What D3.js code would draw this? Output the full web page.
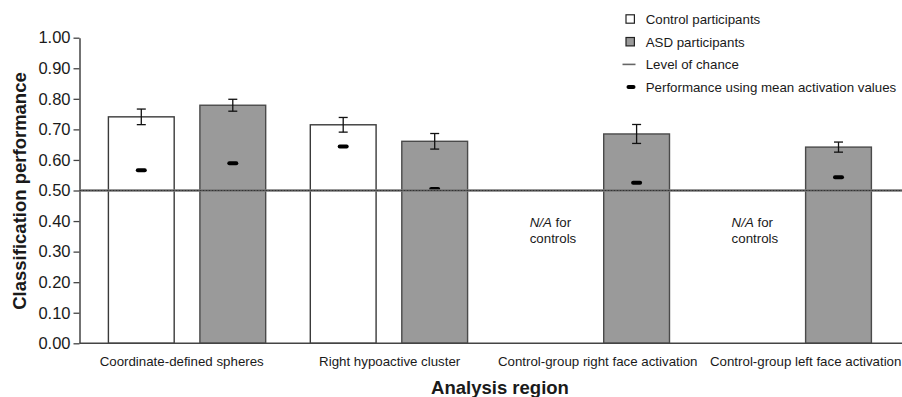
<!DOCTYPE html>
<html>
<head>
<meta charset="utf-8">
<script src="https://cdn.jsdelivr.net/npm/d3@7"></script>
<style>
  html, body { margin: 0; padding: 0; background: #fff; }
  svg { display: block; font-family: "Liberation Sans", Arial, Helvetica, sans-serif; }
</style>
</head>
<body>
<svg id="chart" width="902" height="397"></svg>
<script>
// ---- data ----
const categories = [
  "Coordinate-defined spheres",
  "Right hypoactive cluster",
  "Control-group right face activation",
  "Control-group left face activation"
];
const series = ["Control participants", "ASD participants"];
const controlValues = [0.741, 0.715, null, null];
const controlErrors = [0.0255, 0.024, null, null];
const asdValues = [0.779, 0.661, 0.685, 0.642];
const asdErrors = [0.0195, 0.0255, 0.031, 0.0165];
const controlMean = [0.566, 0.644, null, null];
const asdMean = [0.589, 0.505, 0.525, 0.543];
const chanceLevel = 0.5;
const yTicks = [0, 0.1, 0.2, 0.3, 0.4, 0.5, 0.6, 0.7, 0.8, 0.9, 1.0];
const naLabel = ["N/A", " for", "controls"];
const legendItems = ["Control participants", "ASD participants", "Level of chance", "Performance using mean activation values"];

// ---- layout ----
const svg = d3.select("#chart");
const W = 902, H = 397;
const axisX = 79.5;
const y = d3.scaleLinear().domain([0, 1]).range([343.3, 37.7]);

const x0 = d3.scaleBand().domain(categories).range([108.4, 871.4]).paddingInner(0.221).paddingOuter(0);
const x1 = d3.scaleBand().domain(series).range([0, x0.bandwidth()]).paddingInner(0.281);
const xLabel = d3.scaleBand().domain(categories).range([77.7, 909.7]);

const fills = { "Control participants": "#ffffff", "ASD participants": "#9a9a9a" };
const strokes = { "Control participants": "#3a3a3a", "ASD participants": "#4a4a4a" };

const rows = categories.map((c, i) => ({
  cat: c,
  vals: [
    { s: series[0], v: controlValues[i], e: controlErrors[i], m: controlMean[i] },
    { s: series[1], v: asdValues[i], e: asdErrors[i], m: asdMean[i] }
  ]
}));

// ---- y axis ----
const yAxis = d3.axisLeft(y).tickValues(yTicks).tickFormat(d3.format(".2f")).tickSize(6).tickSizeOuter(0).tickPadding(3);
const gy = svg.append("g").attr("transform", `translate(${axisX},0)`).call(yAxis);
gy.selectAll("text").attr("font-size", "16.5px").attr("fill", "#1a1a1a");
gy.selectAll("line").attr("stroke", "#444").attr("stroke-width", 1.3);
gy.select(".domain").attr("stroke", "#444").attr("stroke-width", 1.5);

// ---- bars ----
const groups = svg.append("g").selectAll("g").data(rows).join("g")
  .attr("transform", d => `translate(${x0(d.cat)},0)`);

const items = groups.selectAll("g.item").data(d => d.vals.filter(v => v.v != null)).join("g").attr("class", "item");

items.append("rect")
  .attr("x", d => x1(d.s))
  .attr("width", x1.bandwidth())
  .attr("y", d => y(d.v))
  .attr("height", d => y(0) - y(d.v))
  .attr("fill", d => fills[d.s])
  .attr("stroke", d => strokes[d.s])
  .attr("stroke-width", 1.4);

// error bars
const cx = d => x1(d.s) + x1.bandwidth() / 2;
items.append("line")
  .attr("x1", cx).attr("x2", cx)
  .attr("y1", d => y(d.v + d.e)).attr("y2", d => y(d.v - d.e))
  .attr("stroke", "#111").attr("stroke-width", 1.3);
items.append("line")
  .attr("x1", d => cx(d) - 4.5).attr("x2", d => cx(d) + 4.5)
  .attr("y1", d => y(d.v + d.e)).attr("y2", d => y(d.v + d.e))
  .attr("stroke", "#111").attr("stroke-width", 1.3);
items.append("line")
  .attr("x1", d => cx(d) - 4.5).attr("x2", d => cx(d) + 4.5)
  .attr("y1", d => y(d.v - d.e)).attr("y2", d => y(d.v - d.e))
  .attr("stroke", "#111").attr("stroke-width", 1.3);

// N/A text
const naGroups = groups.filter(d => d.vals[0].v == null);
const naText = naGroups.append("text")
  .attr("x", x1(series[0]) + 17.5)
  .attr("y", y(0.38))
  .attr("font-size", "13.3px")
  .attr("fill", "#1a1a1a");
naText.append("tspan").attr("font-style", "italic").text(naLabel[0]);
naText.append("tspan").text(naLabel[1]);
naGroups.append("text")
  .attr("x", x1(series[0]) + 17.5)
  .attr("y", y(0.38) + 15.8)
  .attr("font-size", "13.3px")
  .attr("fill", "#1a1a1a")
  .text(naLabel[2]);

// ---- x axis line ----
svg.append("line")
  .attr("x1", axisX).attr("x2", W)
  .attr("y1", y(0)).attr("y2", y(0))
  .attr("stroke", "#444").attr("stroke-width", 1.6);

// chance line
svg.append("line")
  .attr("x1", axisX).attr("x2", W)
  .attr("y1", y(chanceLevel)).attr("y2", y(chanceLevel))
  .attr("stroke", "#777").attr("stroke-width", 2.6);
svg.append("line")
  .attr("x1", axisX).attr("x2", W)
  .attr("y1", y(chanceLevel)).attr("y2", y(chanceLevel))
  .attr("stroke", "#333").attr("stroke-width", 1).attr("stroke-dasharray", "2,1");

// mean markers (drawn on top)
items.filter(d => d.m != null).append("rect")
  .attr("x", d => cx(d) - 5.5)
  .attr("width", 11)
  .attr("y", d => y(d.m) - 2)
  .attr("height", 4)
  .attr("rx", 2)
  .attr("fill", "#000");

// category labels
const xAxis = d3.axisBottom(xLabel).tickSize(0).tickPadding(0);
const gx = svg.append("g").attr("transform", `translate(0,${y(0)})`).call(xAxis);
gx.select(".domain").remove();
gx.selectAll("text").attr("font-size", "13.3px").attr("fill", "#1a1a1a").attr("dy", "0").attr("y", 22.7);

// axis titles
svg.append("text")
  .attr("transform", `translate(26,191) rotate(-90)`)
  .attr("text-anchor", "middle")
  .attr("font-size", "18.5px")
  .attr("font-weight", "bold")
  .attr("fill", "#1a1a1a")
  .text("Classification performance");

svg.append("text")
  .attr("x", 500).attr("y", 394)
  .attr("text-anchor", "middle")
  .attr("font-size", "18.5px")
  .attr("font-weight", "bold")
  .attr("fill", "#1a1a1a")
  .text("Analysis region");

// ---- legend ----
const legend = svg.append("g").attr("transform", "translate(626,19)");
const lrow = legend.selectAll("g").data(legendItems).join("g")
  .attr("transform", (d, i) => `translate(0,${i * 22.7})`);
lrow.filter((d, i) => i < 2).append("rect")
  .attr("x", 0).attr("y", -4.2).attr("width", 8.4).attr("height", 8.4)
  .attr("fill", (d, i) => fills[series[i]])
  .attr("stroke", "#222").attr("stroke-width", 1.2);
lrow.filter((d, i) => i === 2).append("line")
  .attr("x1", -3.5).attr("x2", 9.5).attr("y1", 0).attr("y2", 0)
  .attr("stroke", "#666").attr("stroke-width", 1.6);
lrow.filter((d, i) => i === 3).append("rect")
  .attr("x", 0.5).attr("y", -2).attr("width", 9).attr("height", 4).attr("rx", 2)
  .attr("fill", "#000");
lrow.append("text")
  .attr("x", 19.7).attr("y", 4.8)
  .attr("font-size", "13.3px")
  .attr("fill", "#1a1a1a")
  .text(d => d);
</script>
</body>
</html>
